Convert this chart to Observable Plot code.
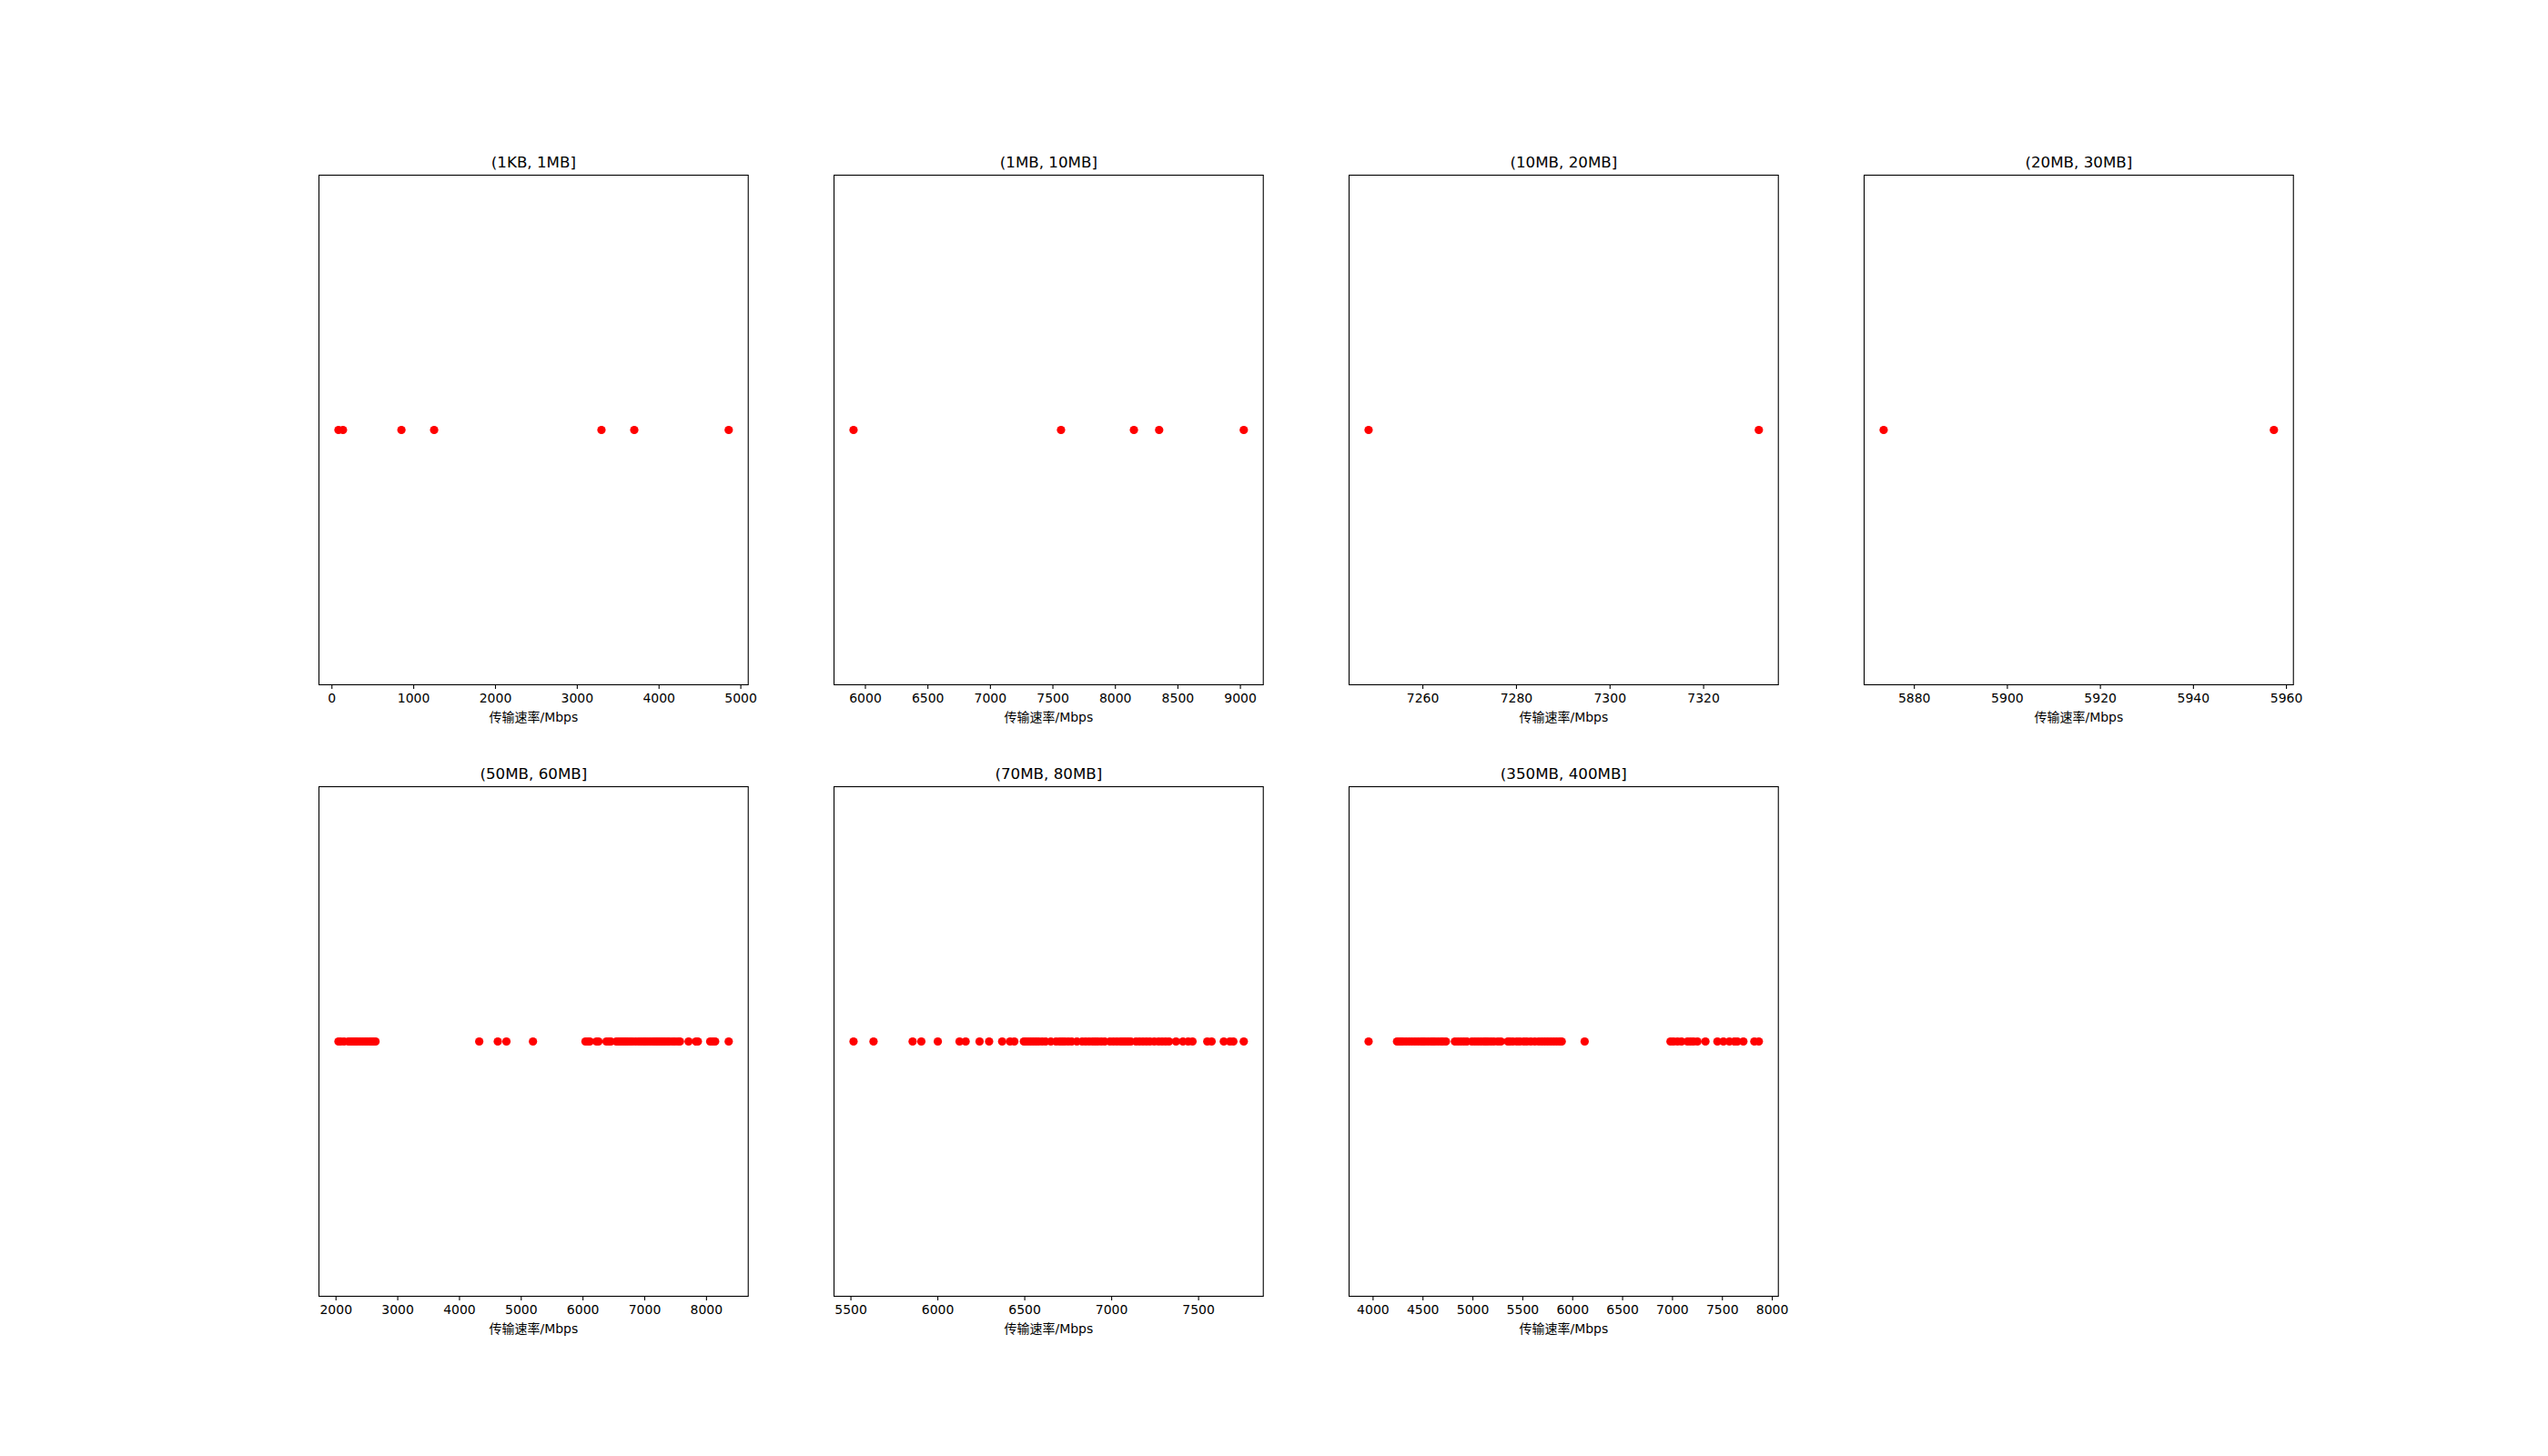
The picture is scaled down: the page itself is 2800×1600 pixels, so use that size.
<!DOCTYPE html>
<html>
<head>
<meta charset="utf-8">
<script src="https://cdn.jsdelivr.net/npm/d3@7"></script>
<script src="https://cdn.jsdelivr.net/npm/@observablehq/plot@0.6"></script>
<style>
  html, body { margin: 0; padding: 0; background: #fff; }
  #fig { position: relative; width: 2800px; height: 1600px; background: #fff; overflow: hidden; }
  .panel { position: absolute; }
</style>
</head>
<body>
<div id="fig"></div>
<script>
// ---- data ----
const titles = ["(1KB, 1MB]", "(1MB, 10MB]", "(10MB, 20MB]", "(20MB, 30MB]", "(50MB, 60MB]", "(70MB, 80MB]", "(350MB, 400MB]"];
const xLabel = "传输速率/Mbps";

const rate_1KB_1MB = [80, 135, 850, 1250, 3296, 3697, 4852];
const rate_1MB_10MB = [5905, 7565, 8148, 8350, 9027];
const rate_10MB_20MB = [7248.4, 7331.8];
const rate_20MB_30MB = [5873.4, 5957.3];
const rate_50MB_60MB = [2040, 2075, 2130, 2200, 2230, 2260, 2290, 2320, 2350, 2390, 2430, 2470, 2510, 2550, 2580, 2610, 2640,
  4320, 4620, 4760, 5190,
  6040, 6080, 6110, 6220, 6250, 6380, 6420, 6450, 6540, 6570, 6600, 6630, 6660, 6690, 6720, 6760, 6800, 6850, 6900, 6940,
  6980, 7010, 7050, 7090, 7130, 7160, 7190, 7210, 7240, 7270, 7300, 7330, 7370, 7400, 7450, 7490, 7540, 7570,
  7710, 7830, 7860, 8060, 8100, 8140, 8360];
const rate_70MB_80MB = [5515, 5630, 5855, 5905, 6000, 6125, 6160, 6240, 6295, 6370, 6415, 6440,
  6495, 6505, 6520, 6535, 6550, 6565, 6580, 6600, 6620, 6650, 6680, 6700, 6715, 6730, 6750, 6770, 6800, 6830, 6850,
  6870, 6890, 6905, 6920, 6940, 6960, 6990, 7010, 7030, 7050, 7065, 7080, 7095, 7110,
  7140, 7160, 7180, 7200, 7220, 7245, 7270, 7290, 7310, 7330,
  7370, 7410, 7440, 7465, 7550, 7575, 7645, 7680, 7700, 7760];
const rate_350MB_400MB = [3955,
  4240, 4260, 4280, 4300, 4330, 4360, 4390, 4420, 4450, 4480, 4500, 4520, 4550, 4580, 4600, 4620, 4650, 4680, 4700, 4730,
  4820, 4850, 4880, 4910, 4940, 4990, 5020, 5050, 5080, 5110, 5130, 5150, 5180, 5210, 5250, 5280,
  5350, 5370, 5400, 5440, 5470, 5510, 5540, 5580, 5620, 5660, 5690, 5720, 5750, 5780, 5810, 5840, 5870, 5890,
  6120,
  6980, 7010, 7050, 7090, 7150, 7180, 7210, 7250, 7330, 7450, 7510, 7570, 7620, 7650, 7710, 7820, 7865];

const ticks_1KB_1MB = [0, 1000, 2000, 3000, 4000, 5000];
const ticks_1MB_10MB = [6000, 6500, 7000, 7500, 8000, 8500, 9000];
const ticks_10MB_20MB = [7260, 7280, 7300, 7320];
const ticks_20MB_30MB = [5880, 5900, 5920, 5940, 5960];
const ticks_50MB_60MB = [2000, 3000, 4000, 5000, 6000, 7000, 8000];
const ticks_70MB_80MB = [5500, 6000, 6500, 7000, 7500];
const ticks_350MB_400MB = [4000, 4500, 5000, 5500, 6000, 6500, 7000, 7500, 8000];

const seriesList = [rate_1KB_1MB, rate_1MB_10MB, rate_10MB_20MB, rate_20MB_30MB, rate_50MB_60MB, rate_70MB_80MB, rate_350MB_400MB];
const tickList = [ticks_1KB_1MB, ticks_1MB_10MB, ticks_10MB_20MB, ticks_20MB_30MB, ticks_50MB_60MB, ticks_70MB_80MB, ticks_350MB_400MB];

// ---- layout (matplotlib 28x16in @100dpi, 2x4 subplots) ----
const figW = 2800, figH = 1600;
const gLeft = 0.125 * figW, gRight = 0.9 * figW, gTop = (1 - 0.88) * figH, gBottom = (1 - 0.11) * figH;
const ncol = 4, nrow = 2, wspace = 0.2, hspace = 0.2;
const pw = (gRight - gLeft) / (ncol + (ncol - 1) * wspace);
const ph = (gBottom - gTop) / (nrow + (nrow - 1) * hspace);
const mL = 40, mR = 40, mT = 40, mB = 60;
const font = "'DejaVu Sans', 'Noto Sans CJK SC', sans-serif";

const figEl = document.getElementById("fig");
seriesList.forEach((vals, i) => {
  const col = i % ncol, row = Math.floor(i / ncol);
  const fx = gLeft + col * pw * (1 + wspace);
  const fy = gTop + row * ph * (1 + hspace);
  const lo = d3.min(vals), hi = d3.max(vals), span = hi - lo;
  const domain = [lo - 0.05 * span, hi + 0.05 * span];
  const chart = Plot.plot({
    width: pw + mL + mR,
    height: ph + mT + mB,
    marginLeft: mL, marginRight: mR, marginTop: mT, marginBottom: mB,
    style: { fontFamily: font, fontSize: "14px", color: "#000", background: "transparent", overflow: "visible" },
    x: { domain, ticks: tickList[i], tickFormat: d => String(d) },
    marks: [
      Plot.axisX({ ticks: tickList[i], tickFormat: d => String(d), tickSize: 5, tickPadding: 5, strokeWidth: 1.1, fontSize: 14, label: null }),
      Plot.frame({ stroke: "#000", strokeWidth: 1.1 }),
      Plot.dotX(vals, { x: d => d, r: 4.6, fill: "#ff0000", stroke: "none" }),
      Plot.text([titles[i]], { text: d => d, frameAnchor: "top", dy: -8, lineAnchor: "bottom", fontSize: 16.7, fill: "#000" }),
      Plot.text([xLabel], { text: d => d, frameAnchor: "bottom", dy: 36, lineAnchor: "middle", fontSize: 14, fill: "#000" })
    ]
  });
  chart.classList.add("panel");
  chart.style.left = (fx - mL) + "px";
  chart.style.top = (fy - mT) + "px";
  figEl.appendChild(chart);
});
</script>
</body>
</html>
